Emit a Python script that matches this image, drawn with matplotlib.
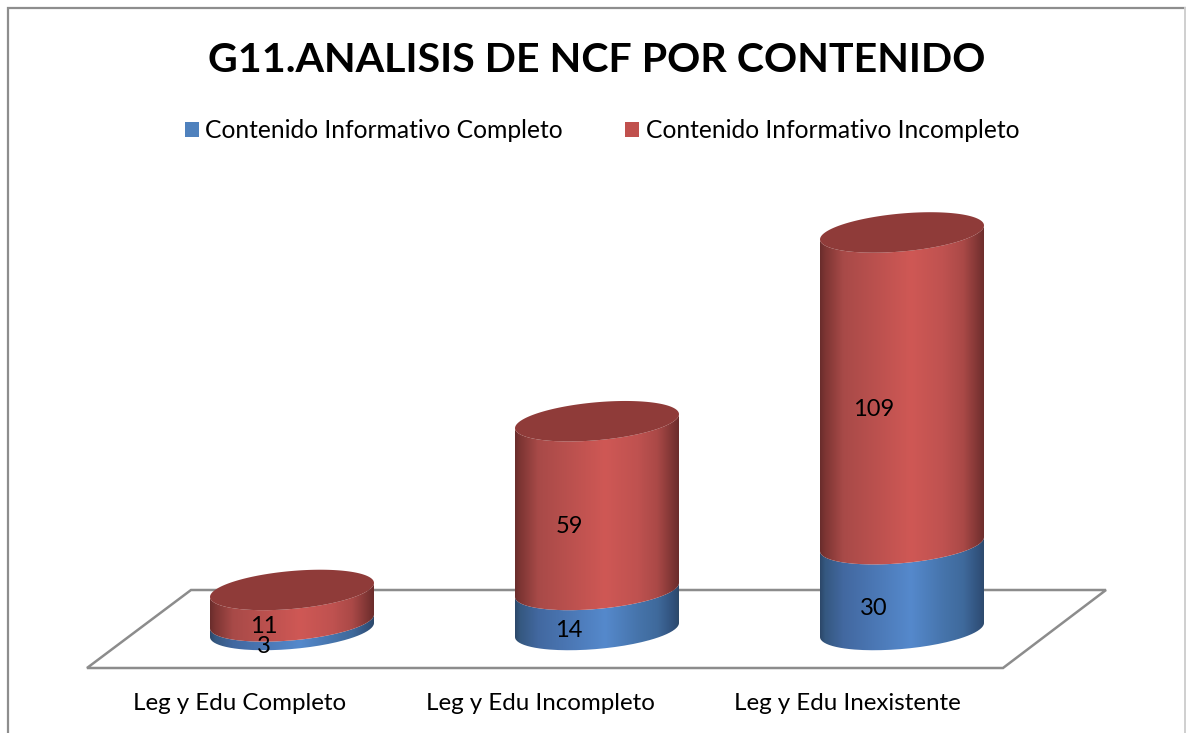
import numpy as np
import matplotlib
matplotlib.use("Agg")
import matplotlib.pyplot as plt
from matplotlib.patches import Patch, PathPatch, Polygon
from matplotlib.path import Path
from matplotlib.colors import LinearSegmentedColormap

categories = ["Leg y Edu Completo", "Leg y Edu Incompleto", "Leg y Edu Inexistente"]
series_names = ["Contenido Informativo Completo", "Contenido Informativo Incompleto"]
completo = [3, 14, 30]
incompleto = [11, 59, 109]
title = "G11.ANALISIS DE NCF POR CONTENIDO"

W, H = 1186, 733
plt.rcParams["font.family"] = ["Lato", "DejaVu Sans"]
fig = plt.figure(figsize=(W / 100, H / 100), dpi=100, facecolor="white")

# pixel-space layer: frame, floor and title
bg = fig.add_axes([0, 0, 1, 1], zorder=0)
bg.set_xlim(0, W); bg.set_ylim(H, 0); bg.axis("off")
bg.plot([8, 8, 1185], [H, 8, 8], color="#8e8e8e", lw=1.6, solid_joinstyle="miter")
bg.plot([1185, 1185], [8, H], color="#cfcfcf", lw=1.4)
bg.add_patch(Polygon([(87, 668), (191, 590), (1106, 590), (1003, 668)], closed=True,
                     fill=False, ec="#8c8c8c", lw=1.8))
bg.text(597, 60, title, ha="center", va="center", fontsize=29.6, fontweight="bold", color="black")

# data layer
PX_PER_UNIT = 2.86
BASE_PX, FLOOR_PX = 630, 668
ax = fig.add_axes([0, (H - FLOOR_PX) / H, 1, FLOOR_PX / H], zorder=1)
ax.patch.set_alpha(0)
xlim = (-292 / 305, (W - 292) / 305)
ylim = ((BASE_PX - FLOOR_PX) / PX_PER_UNIT, BASE_PX / PX_PER_UNIT)

A = 82 / 305
B = 19 / PX_PER_UNIT
S = 7 / PX_PER_UNIT
t_front = np.linspace(np.pi, 2 * np.pi, 80)
t_full = np.linspace(0, 2 * np.pi, 160)

stops = [0, 0.03, 0.14, 0.55, 0.75, 0.87, 0.97, 1]
cmap_red = LinearSegmentedColormap.from_list("r", list(zip(stops, ["#6a2d2c", "#7d3533", "#a84a48", "#cf5855", "#bf5250", "#aa4947", "#7a3332", "#6b2c2b"])))
cmap_blue = LinearSegmentedColormap.from_list("b", list(zip(stops, ["#2c4869", "#355880", "#4268a0", "#5589cc", "#4674ab", "#3f6a9c", "#30507a", "#2d4969"])))
grad = np.linspace(0, 1, 256).reshape(1, -1)


def arc(x, y, t):
    return x + A * np.cos(t), y + B * np.sin(t) + S * np.cos(t)


def body(x, lo, hi, cmap, z):
    xa, ya = arc(x, lo, t_front)
    xb, yb = arc(x, hi, t_front[::-1])
    verts = np.column_stack([np.r_[xa, xb], np.r_[ya, yb]])
    im = ax.imshow(grad, cmap=cmap, extent=(x - A, x + A, lo - 2 * B, hi + 2 * B),
                   aspect="auto", zorder=z, interpolation="bilinear")
    clip = PathPatch(Path(verts), transform=ax.transData, fc="none", ec="none")
    ax.add_patch(clip)
    im.set_clip_path(clip)


x_pos = np.arange(len(categories))
for i, x in enumerate(x_pos):
    lo, hi = completo[i], completo[i] + incompleto[i]
    body(x, 0, lo, cmap_blue, 2 + i)
    body(x, lo, hi, cmap_red, 2.2 + i)
    xe, ye = arc(x, hi, t_full)
    ax.fill(xe, ye, color="#8f3b39", lw=0, zorder=2.4 + i)
    for val, mid in ((completo[i], lo / 2), (incompleto[i], lo + incompleto[i] / 2)):
        ax.annotate(str(val), (x, mid), xytext=(-28 * 0.72, -21 * 0.72), textcoords="offset points",
                    ha="center", va="center", fontsize=17, color="black", zorder=6)

ax.set_xlim(*xlim); ax.set_ylim(*ylim)
ax.set_xticks((np.array([239.5, 540, 847.5]) - 292) / 305)
ax.set_xticklabels(categories, fontsize=17.4)
ax.tick_params(axis="x", length=0, pad=18.2)
ax.set_yticks([])
for s in ax.spines.values():
    s.set_visible(False)

leg = fig.legend(handles=[Patch(fc="#4f81bd", ec="none"), Patch(fc="#c0504d", ec="none")],
                 labels=series_names, ncol=2, frameon=False, fontsize=17.7,
                 loc="center left", bbox_to_anchor=(185 / W, (H - 131) / H),
                 handlelength=0.57, handleheight=0.57, handletextpad=0.25,
                 columnspacing=2.55, borderpad=0, borderaxespad=0)

fig.savefig("out.png", dpi=100)
